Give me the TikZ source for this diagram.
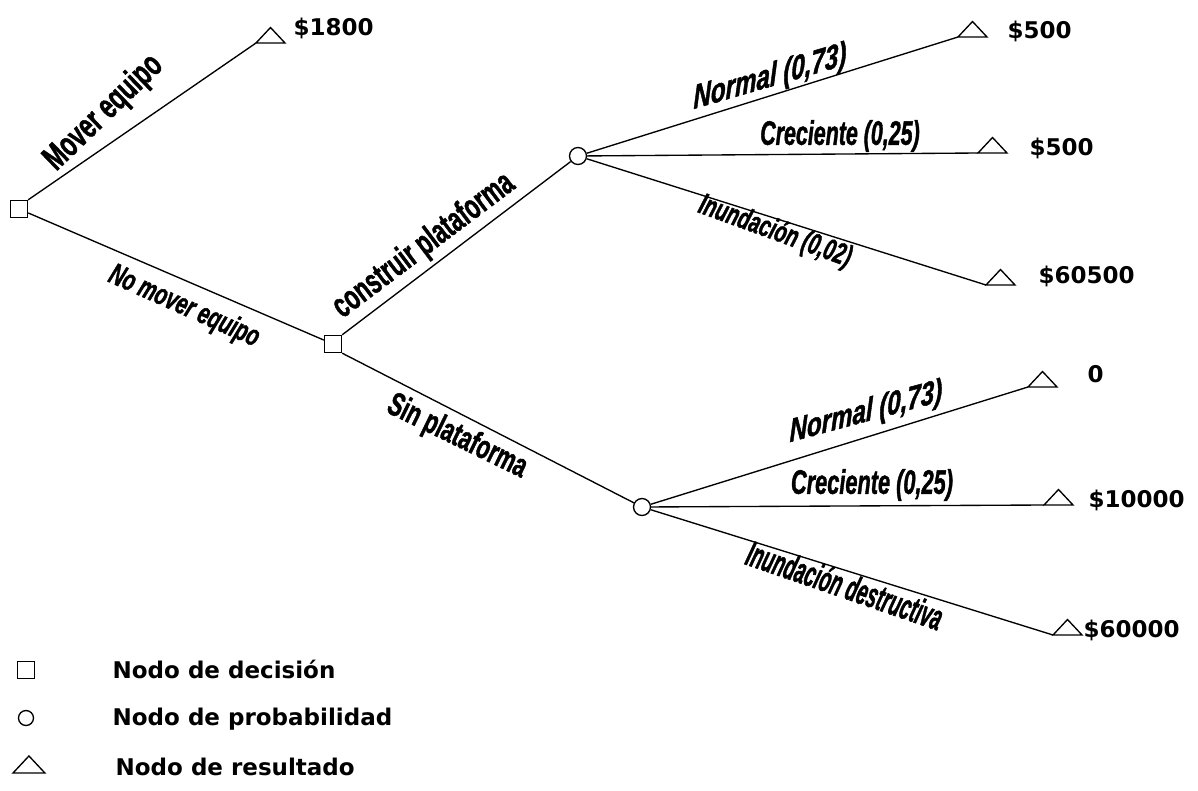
\documentclass[tikz,border=0pt]{standalone}
\usepackage{fontspec}
\usepackage{graphicx}
\setmainfont{DejaVu Sans}
\newfontfamily\labfont{Liberation Sans}[BoldFeatures={FakeBold=1.6},BoldItalicFeatures={FakeBold=1.6}]
% size, horizontal squeeze, text
\newcommand\lab[3]{\fontsize{#1}{#1}\selectfont\scalebox{#2}[1]{#3}}
\tikzset{
  outcome/.pic={\draw (0,0) -- (29,0) -- (14.5,-15.5) -- cycle;},
}
\begin{document}
\begin{tikzpicture}[x=1pt,y=-1pt,line width=1.35pt,
  dec/.style={draw,rectangle,minimum size=17pt,inner sep=0pt,fill=white},
  chance/.style={draw,circle,minimum size=17pt,inner sep=0pt,fill=white},
  lbl/.style={inner sep=0pt,font=\labfont\bfseries},
  lbli/.style={inner sep=0pt,font=\labfont\bfseries\itshape},
  amt/.style={anchor=base west,inner sep=0pt,font=\bfseries\fontsize{23}{23}\selectfont},
  legend/.style={anchor=base west,inner sep=0pt,font=\bfseries\fontsize{23}{23}\selectfont},
]
\useasboundingbox (0,0) rectangle (1198,790);

% decision and chance nodes
\node[dec] (d1) at (19,209) {};
\node[dec] (d2) at (333,344) {};
\node[chance] (c1) at (578,156) {};
\node[chance] (c2) at (642,507) {};

% end points (base-left corner of each outcome triangle)
\coordinate (t0) at (256,43);
\coordinate (t1) at (958,37);
\coordinate (t2) at (978,153);
\coordinate (t3) at (986,285);
\coordinate (t4) at (1028,387);
\coordinate (t5) at (1044,505);
\coordinate (t6) at (1053,635);
\foreach \t in {t0,t1,t2,t3,t4,t5,t6} {\pic at (\t) {outcome};}

% branches
\draw (d1.north east) -- (t0);
\draw (d1) -- (d2);
\draw (d2.north east) -- (c1);
\draw (d2.south east) -- (c2);
\draw (c1) -- (t1);
\draw (c1) -- (t2);
\draw (c1) -- (t3);
\draw (c2) -- (t4);
\draw (c2) -- (t5);
\draw (c2) -- (t6);

% branch labels
\node[lbl,rotate=44] (lmov) at (104,113) {\lab{35}{0.66}{Mover equipo}};
\node[lbli,rotate=-24] (lnomov) at (184,307) {\lab{30}{0.66}{No mover equipo}};
\node[lbl,rotate=37] (lcons) at (424,246) {\lab{35}{0.64}{construir plataforma}};
\node[lbl,rotate=-26] (lsin) at (457,437) {\lab{33}{0.66}{Sin plataforma}};
\node[lbli,yslant=0.29] (ln1) at (770,78) {\lab{34}{0.71}{Normal (0,73)}};
\node[lbli] (lc1) at (840,136) {\lab{34}{0.63}{Creciente (0,25)}};
\node[lbli,rotate=-20] (li1) at (775,232) {\lab{30}{0.65}{Inundación (0,02)}};
\node[lbli,yslant=0.27] (ln2) at (866,413) {\lab{33}{0.73}{Normal (0,73)}};
\node[lbli] (lc2) at (872,485) {\lab{34}{0.64}{Creciente (0,25)}};
\node[lbli,rotate=-19] (li2) at (845,585) {\lab{36}{0.52}{Inundación destructiva}};

% payoffs
\node[amt] (v0) at (293,35) {\$1800};
\node[amt] (v1) at (1007,38) {\$500};
\node[amt] (v2) at (1029,155) {\$500};
\node[amt] (v3) at (1038,283) {\$60500};
\node[amt] (v4) at (1087,382) {0};
\node[amt] (v5) at (1088,507) {\$10000};
\node[amt] (v6) at (1083,637) {\$60000};

% legend
\node[dec] (kd) at (26,670) {};
\node[legend] (kdt) at (112,678) {Nodo de decisión};
\node[chance,minimum size=15pt] (kc) at (26,718) {};
\node[legend] (kct) at (112,725) {Nodo de probabilidad};
\coordinate (kt) at (13,773);
\pic[scale=1.1] at (kt) {outcome};
\node[legend] (ktt) at (115,775) {Nodo de resultado};
\end{tikzpicture}
\end{document}
